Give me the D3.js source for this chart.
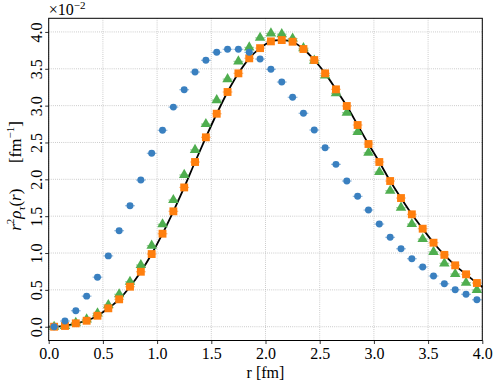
<!DOCTYPE html>
<html lang="en">
<head>
<meta charset="UTF-8">
<title>r^2 rho_tau(r)</title>
<script src="https://cdn.jsdelivr.net/npm/d3@7"></script>
<style>
  body { margin: 0; background: #fff; }
  svg text { font-family: "Liberation Serif", "DejaVu Serif", serif; fill: #000; }
</style>
</head>
<body>
<div id="chart"></div>
<script>
// radial bins [fm]
var rVals = [0.05, 0.15, 0.25, 0.35, 0.45, 0.55, 0.65, 0.75, 0.85, 0.95,
             1.05, 1.15, 1.25, 1.35, 1.45, 1.55, 1.65, 1.75, 1.85, 1.95,
             2.05, 2.15, 2.25, 2.35, 2.45, 2.55, 2.65, 2.75, 2.85, 2.95,
             3.05, 3.15, 3.25, 3.35, 3.45, 3.55, 3.65, 3.75, 3.85, 3.95];

// values in units of 1e-2 fm^-1
var blueVals = [0.00, 0.077, 0.217, 0.415, 0.672, 0.961, 1.303, 1.642, 1.99, 2.353,
                2.665, 2.98, 3.216, 3.456, 3.615, 3.723, 3.764, 3.764, 3.723, 3.632,
                3.493, 3.32, 3.113, 2.896, 2.669, 2.429, 2.203, 1.977, 1.769, 1.583,
                1.393, 1.213, 1.058, 0.923, 0.81, 0.688, 0.583, 0.502, 0.44, 0.366];

var greenVals = [0.0, 0.01, 0.054, 0.10, 0.18, 0.294, 0.44, 0.61, 0.837, 1.10,
                 1.39, 1.72, 2.06, 2.40, 2.75, 3.075, 3.36, 3.60, 3.79, 3.92,
                 3.98, 3.97, 3.91, 3.78, 3.61, 3.41, 3.167, 2.904, 2.642, 2.36,
                 2.099, 1.845, 1.615, 1.393, 1.19, 1.016, 0.86, 0.715, 0.597, 0.498];

var orangeVals = [0.0, 0.01, 0.046, 0.081, 0.149, 0.25, 0.372, 0.543, 0.746, 0.986,
                  1.262, 1.566, 1.89, 2.235, 2.57, 2.89, 3.185, 3.438, 3.642, 3.78,
                  3.872, 3.89, 3.867, 3.768, 3.619, 3.438, 3.221, 2.995, 2.737, 2.479,
                  2.235, 1.977, 1.746, 1.525, 1.33, 1.14, 0.975, 0.833, 0.711, 0.593];

// black reference curve
var lineR = [0.0].concat(rVals, [4.0]);
var lineVals = [0.0].concat(orangeVals, [0.54]);

var xTicks = [0.0, 0.5, 1.0, 1.5, 2.0, 2.5, 3.0, 3.5, 4.0];
var yTicks = [0.0, 0.5, 1.0, 1.5, 2.0, 2.5, 3.0, 3.5, 4.0];
var xErr = 0.045;

var W = 497, H = 389;
var pL = 48.7, pR = 482.3, pT = 18.3, pB = 340.5;

var svg = d3.select("#chart").append("svg")
  .attr("width", W).attr("height", H);

var x = d3.scaleLinear().domain([0, 4]).range([pL, pR]);
var y = d3.scaleLinear().domain([-0.187, 4.185]).range([pB, pT]);

// grid
var grid = svg.append("g")
  .attr("stroke", "#b0b0b0").attr("stroke-width", 0.8)
  .attr("stroke-dasharray", "0.8,1.3");
grid.selectAll("line.gx").data(xTicks).enter().append("line")
  .attr("x1", d => x(d)).attr("x2", d => x(d))
  .attr("y1", pT).attr("y2", pB);
grid.selectAll("line.gy").data(yTicks).enter().append("line")
  .attr("x1", pL).attr("x2", pR)
  .attr("y1", d => y(d)).attr("y2", d => y(d));

// axes
var xAxis = d3.axisBottom(x).tickValues(xTicks).tickFormat(d3.format(".1f"))
  .tickSizeInner(3.5).tickSizeOuter(0).tickPadding(4);
var gx = svg.append("g").attr("transform", "translate(0," + pB + ")").call(xAxis);
gx.select(".domain").remove();
gx.selectAll("text").style("font-size", "16px").attr("fill", "#000")
  .style("font-family", '"Liberation Serif", serif');
gx.selectAll("line").attr("stroke", "#000").attr("stroke-width", 0.8);

var yAxis = d3.axisLeft(y).tickValues(yTicks).tickFormat(d3.format(".1f"))
  .tickSizeInner(3.5).tickSizeOuter(0).tickPadding(6);
var gy = svg.append("g").attr("transform", "translate(" + pL + ",0)").call(yAxis);
gy.select(".domain").remove();
gy.selectAll("line").attr("stroke", "#000").attr("stroke-width", 0.8);
gy.selectAll("text")
  .style("font-size", "16px").attr("fill", "#000")
  .style("font-family", '"Liberation Serif", serif')
  .attr("x", null).attr("dy", null)
  .attr("text-anchor", "middle")
  .attr("transform", "translate(-6.5,0) rotate(-90)");

// reference curve
var line = d3.line()
  .x((d, i) => x(lineR[i]))
  .y(d => y(d))
  .curve(d3.curveCatmullRom);
svg.append("path").datum(lineVals)
  .attr("d", line)
  .attr("fill", "none").attr("stroke", "#000").attr("stroke-width", 1.8);

function drawSeries(vals, color, shape, size) {
  var g = svg.append("g");
  g.selectAll("line").data(vals).enter().append("line")
    .attr("x1", (d, i) => x(rVals[i] - xErr))
    .attr("x2", (d, i) => x(rVals[i] + xErr))
    .attr("y1", d => y(d)).attr("y2", d => y(d))
    .attr("stroke", color).attr("stroke-width", 1.2).attr("opacity", 0.55);
  g.selectAll("path").data(vals).enter().append("path")
    .attr("d", d3.symbol().type(shape).size(size))
    .attr("transform", (d, i) => "translate(" + x(rVals[i]) + "," + y(d) + ")")
    .attr("fill", color);
}

drawSeries(greenVals, "#4fae4f", d3.symbolTriangle, 48);
drawSeries(orangeVals, "#ff7f0e", d3.symbolSquare, 62);
drawSeries(blueVals, "#3a80c0", d3.symbolCircle, 38);

// frame
svg.append("rect")
  .attr("x", pL).attr("y", pT)
  .attr("width", pR - pL).attr("height", pB - pT)
  .attr("fill", "none").attr("stroke", "#000").attr("stroke-width", 1);

// labels
svg.append("text")
  .attr("x", (pL + pR) / 2).attr("y", 378)
  .attr("text-anchor", "middle").style("font-size", "16px")
  .text("r [fm]");

var yl = svg.append("text")
  .attr("transform", "translate(21,176) rotate(-90)")
  .attr("text-anchor", "middle").style("font-size", "17px");
yl.append("tspan").style("font-style", "italic").text("r");
yl.append("tspan").attr("dy", -7).style("font-size", "11px").text("2");
yl.append("tspan").attr("dy", 7).style("font-style", "italic").text("\u03c1");
yl.append("tspan").attr("dy", 4).style("font-size", "11px").style("font-style", "italic").text("\u03c4");
yl.append("tspan").attr("dy", -4).text("(");
yl.append("tspan").style("font-style", "italic").text("r");
yl.append("tspan").text(")\u2003\u2002[fm");
yl.append("tspan").attr("dy", -7).style("font-size", "11px").text("\u22121");
yl.append("tspan").attr("dy", 7).text("]");

var ex = svg.append("text")
  .attr("x", pL).attr("y", 15).style("font-size", "16px");
ex.append("tspan").text("\u00d710");
ex.append("tspan").attr("dy", -6).style("font-size", "11px").text("\u22122");
</script>
</body>
</html>
